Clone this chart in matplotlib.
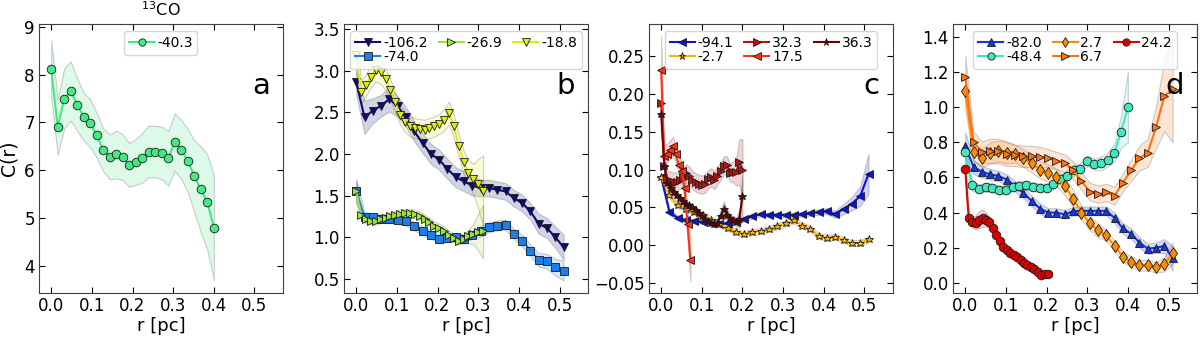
import numpy as np
import matplotlib.pyplot as plt

# radios (rejilla regular de cada curva)
r_a = np.linspace(0, 0.40, 26)
r_26 = np.linspace(0, 0.51, 26)
r_31 = np.linspace(0, 0.312, 27)
r_20 = np.linspace(0, 0.20, 27)
r_175 = np.linspace(0, 0.072, 11)
r_40 = np.linspace(0, 0.40, 25)
r_242 = np.linspace(0, 0.204, 25)

# panel a: 13CO
c_m403 = [8.12, 6.90, 7.50, 7.66, 7.37, 7.12, 6.98, 6.73, 6.43, 6.28, 6.33, 6.27, 6.11,
          6.17, 6.26, 6.39, 6.39, 6.36, 6.25, 6.59, 6.43, 6.20, 5.87, 5.60, 5.33, 4.80]
e_m403 = [0.60, 0.58, 0.63, 0.62, 0.55, 0.50, 0.50, 0.47, 0.45, 0.47, 0.50, 0.48, 0.46,
          0.48, 0.52, 0.54, 0.54, 0.55, 0.57, 0.60, 0.62, 0.66, 0.75, 0.90, 1.00, 1.10]

# panel b
c_m1062 = [2.86, 2.44, 2.52, 2.58, 2.66, 2.57, 2.44, 2.27, 2.13, 2.00, 1.93, 1.82, 1.72,
           1.67, 1.62, 1.59, 1.59, 1.57, 1.55, 1.47, 1.41, 1.31, 1.16, 1.11, 1.00, 0.88]
e_m1062 = [0.15, 0.20, 0.15, 0.13, 0.15, 0.12, 0.12, 0.12, 0.12, 0.12, 0.12, 0.12, 0.12,
           0.12, 0.12, 0.10, 0.10, 0.10, 0.10, 0.10, 0.10, 0.10, 0.12, 0.12, 0.13, 0.15]
c_m740 = [1.55, 1.24, 1.24, 1.22, 1.22, 1.21, 1.19, 1.13, 1.08, 1.03, 0.98, 0.99, 1.00,
          0.98, 1.03, 1.07, 1.12, 1.14, 1.15, 1.04, 0.96, 0.84, 0.73, 0.71, 0.64, 0.60]
e_m740 = [0.15, 0.06, 0.05, 0.05, 0.05, 0.05, 0.05, 0.05, 0.05, 0.05, 0.05, 0.05, 0.05,
          0.05, 0.05, 0.06, 0.06, 0.06, 0.06, 0.06, 0.07, 0.07, 0.08, 0.09, 0.10, 0.12]
c_m269 = [1.55, 1.27, 1.22, 1.20, 1.20, 1.22, 1.23, 1.25, 1.27, 1.28, 1.29, 1.29, 1.28,
          1.26, 1.22, 1.18, 1.14, 1.11, 1.08, 1.03, 0.99, 0.96, 0.98, 1.01, 1.04, 1.06, 1.07]
e_m269 = [0.12, 0.05, 0.05, 0.05, 0.05, 0.05, 0.05, 0.05, 0.05, 0.05, 0.05, 0.05, 0.05,
          0.05, 0.05, 0.05, 0.05, 0.05, 0.05, 0.05, 0.05, 0.05, 0.06, 0.08, 0.12, 0.22, 0.32]
c_m188 = [3.19, 2.74, 2.83, 2.93, 3.01, 2.98, 2.90, 2.77, 2.62, 2.47, 2.38, 2.33, 2.31,
          2.30, 2.29, 2.31, 2.33, 2.36, 2.41, 2.49, 2.33, 2.10, 1.90, 1.77, 1.70, 1.64, 1.56]
e_m188 = [0.22, 0.14, 0.13, 0.13, 0.14, 0.14, 0.13, 0.12, 0.12, 0.12, 0.12, 0.12, 0.12,
          0.12, 0.12, 0.12, 0.12, 0.12, 0.13, 0.14, 0.14, 0.14, 0.14, 0.15, 0.18, 0.30, 0.42]

# panel c
c_m941 = [0.090, 0.044, 0.036, 0.033, 0.032, 0.031, 0.029, 0.028, 0.029, 0.031, 0.035, 0.038, 0.041,
          0.040, 0.040, 0.040, 0.040, 0.041, 0.042, 0.044, 0.045, 0.041, 0.048, 0.055, 0.065, 0.094]
e_m941 = [0.005, 0.004, 0.003, 0.003, 0.003, 0.003, 0.003, 0.003, 0.003, 0.003, 0.003, 0.003, 0.003,
          0.003, 0.003, 0.003, 0.003, 0.003, 0.003, 0.004, 0.004, 0.005, 0.007, 0.009, 0.013, 0.027]
c_m27 = [0.090, 0.066, 0.053, 0.048, 0.044, 0.040, 0.034, 0.028, 0.023, 0.018, 0.015, 0.0175, 0.019,
         0.0215, 0.025, 0.029, 0.033, 0.026, 0.022, 0.012, 0.010, 0.011, 0.007, 0.003, 0.003, 0.008]
e_m27 = [0.004] * 26
c_323 = [0.188, 0.105, 0.087, 0.085, 0.084, 0.084, 0.086, 0.090, 0.095, 0.092, 0.086, 0.083, 0.081, 0.080,
         0.081, 0.087, 0.090, 0.086, 0.092, 0.098, 0.105, 0.106, 0.096, 0.097, 0.097, 0.110, 0.100]
e_323 = [0.02, 0.015, 0.012, 0.012, 0.012, 0.012, 0.012, 0.012, 0.012, 0.012, 0.012, 0.012, 0.012, 0.012,
         0.012, 0.012, 0.012, 0.012, 0.012, 0.012, 0.012, 0.012, 0.012, 0.014, 0.018, 0.030, 0.040]
c_175 = [0.231, 0.118, 0.121, 0.126, 0.131, 0.120, 0.106, 0.098, 0.076, 0.028, -0.020]
e_175 = [0.045, 0.015, 0.012, 0.012, 0.012, 0.012, 0.012, 0.012, 0.015, 0.020, 0.028]
c_363 = [0.173, 0.105, 0.082, 0.075, 0.070, 0.066, 0.062, 0.058, 0.055, 0.053, 0.050, 0.047, 0.043, 0.038,
         0.035, 0.032, 0.030, 0.028, 0.030, 0.038, 0.048, 0.040, 0.036, 0.033, 0.031, 0.035, 0.065]
e_363 = [0.01, 0.006, 0.004, 0.004, 0.004, 0.004, 0.004, 0.004, 0.004, 0.004, 0.004, 0.004, 0.004, 0.004,
         0.004, 0.004, 0.004, 0.005, 0.006, 0.008, 0.010, 0.008, 0.006, 0.005, 0.006, 0.012, 0.030]

# panel d
c_m820 = [0.778, 0.660, 0.632, 0.618, 0.608, 0.588, 0.550, 0.512, 0.467, 0.423, 0.400, 0.400, 0.390,
          0.408, 0.410, 0.410, 0.410, 0.410, 0.370, 0.310, 0.280, 0.230, 0.195, 0.200, 0.210, 0.140]
e_m820 = [0.08, 0.04, 0.035, 0.03, 0.03, 0.03, 0.03, 0.03, 0.03, 0.03, 0.025, 0.025, 0.025,
          0.025, 0.025, 0.025, 0.025, 0.025, 0.03, 0.03, 0.03, 0.03, 0.03, 0.03, 0.04, 0.07]
c_m484 = [0.745, 0.556, 0.535, 0.545, 0.540, 0.528, 0.530, 0.548, 0.553, 0.555, 0.548, 0.540, 0.540,
          0.560, 0.590, 0.610, 0.640, 0.650, 0.695, 0.675, 0.680, 0.700, 0.740, 0.860, 1.000]
e_m484 = [0.05, 0.03, 0.025, 0.025, 0.025, 0.025, 0.025, 0.025, 0.025, 0.025, 0.025, 0.025, 0.025,
          0.025, 0.025, 0.03, 0.03, 0.03, 0.03, 0.03, 0.04, 0.04, 0.05, 0.09, 0.20]
c_27 = [1.09, 0.745, 0.71, 0.74, 0.75, 0.74, 0.735, 0.71, 0.68, 0.645, 0.625, 0.60, 0.55,
        0.48, 0.40, 0.34, 0.30, 0.27, 0.21, 0.15, 0.12, 0.10, 0.10, 0.09, 0.105, 0.17]
e_27 = [0.10, 0.05, 0.05, 0.06, 0.06, 0.06, 0.05, 0.05, 0.05, 0.05, 0.05, 0.05, 0.05,
        0.05, 0.04, 0.04, 0.04, 0.03, 0.03, 0.03, 0.03, 0.03, 0.03, 0.03, 0.04, 0.06]
c_67 = [1.17, 0.80, 0.745, 0.75, 0.75, 0.735, 0.725, 0.72, 0.72, 0.714, 0.71, 0.695, 0.68,
        0.64, 0.58, 0.52, 0.505, 0.515, 0.495, 0.57, 0.64, 0.71, 0.74, 0.885, 1.063, 1.10]
e_67 = [0.12, 0.06, 0.06, 0.07, 0.07, 0.07, 0.06, 0.06, 0.06, 0.06, 0.05, 0.05, 0.05,
        0.05, 0.05, 0.05, 0.05, 0.05, 0.05, 0.05, 0.06, 0.07, 0.08, 0.12, 0.20, 0.30]
c_242 = [0.650, 0.370, 0.345, 0.343, 0.360, 0.368, 0.360, 0.345, 0.310, 0.275, 0.240, 0.205, 0.190,
         0.170, 0.160, 0.150, 0.130, 0.115, 0.103, 0.093, 0.078, 0.063, 0.045, 0.050, 0.052]
e_242 = [0.04, 0.03, 0.03, 0.04, 0.05, 0.05, 0.04, 0.03, 0.02, 0.02, 0.02, 0.02, 0.02,
         0.02, 0.02, 0.02, 0.02, 0.02, 0.02, 0.02, 0.02, 0.02, 0.02, 0.02, 0.02]


def curva(ax, r, c, e, color, marker, label, ms=6.2):
    c = np.array(c)
    e = np.array(e)
    ax.fill_between(r, c - e, c + e, facecolor=color, edgecolor='k', alpha=0.18, lw=0.8)
    ax.plot(r, c, '-', color=color, marker=marker, mfc=color, mec='0.1', mew=0.6,
            ms=ms, lw=1.5, label=label)


fig = plt.figure(figsize=(12, 3.37), dpi=100)
lefts = [0.0325, 0.2867, 0.5408, 0.7942]
axs = [fig.add_axes([l, 0.1306, 0.2033, 0.798]) for l in lefts]

leg_kw = dict(loc='upper center', fontsize=10, handletextpad=0.2, handlelength=1.8,
              labelspacing=0.0, columnspacing=0.8, borderpad=0.35, markerscale=0.85)

ax = axs[0]
curva(ax, r_a, c_m403, e_m403, '#45e882', 'o', '-40.3')
ax.set_ylim(3.43, 9.06)
ax.set_yticks([4, 5, 6, 7, 8, 9])
ax.set_ylabel('C(r)', fontsize=13.5)
ax.set_title(r'$^{13}$CO', fontsize=11.5, pad=6)
ax.legend(ncol=1, **leg_kw)

ax = axs[1]
curva(ax, r_26, c_m1062, e_m1062, '#0b0b78', 'v', '-106.2')
curva(ax, r_26, c_m740, e_m740, '#1f7de8', 's', '-74.0')
curva(ax, r_31, c_m269, e_m269, '#9be33a', '>', '-26.9')
curva(ax, r_31, c_m188, e_m188, '#dcee10', 'v', '-18.8')
ax.set_ylim(0.33, 3.56)
ax.set_yticks([0.5, 1.0, 1.5, 2.0, 2.5, 3.0, 3.5])

ax = axs[2]
curva(ax, r_26, c_m941, e_m941, '#0a14d6', '<', '-94.1')
curva(ax, r_26, c_m27, e_m27, '#ffb300', '*', '-2.7')
curva(ax, r_20, c_323, e_323, '#b01515', '>', '32.3')
curva(ax, r_175, c_175, e_175, '#ff3015', '<', '17.5')
curva(ax, r_20, c_363, e_363, '#700000', '*', '36.3')
ax.set_ylim(-0.063, 0.292)
ax.set_yticks([-0.05, 0.0, 0.05, 0.10, 0.15, 0.20, 0.25])

ax = axs[3]
curva(ax, r_26, c_m820, e_m820, '#1536e0', '^', '-82.0')
curva(ax, r_40, c_m484, e_m484, '#40e8c0', 'o', '-48.4')
curva(ax, r_26, c_27, e_27, '#ff8c00', 'd', '2.7')
curva(ax, r_26, c_67, e_67, '#ff7410', '>', '6.7')
curva(ax, r_242, c_242, e_242, '#dd0000', 'o', '24.2')
ax.set_ylim(-0.057, 1.472)
ax.set_yticks([0.0, 0.2, 0.4, 0.6, 0.8, 1.0, 1.2, 1.4])

for ax, letra in zip(axs, ['a', 'b', 'c', 'd']):
    ax.set_xlim(-0.03, 0.57)
    ax.set_xticks([0.0, 0.1, 0.2, 0.3, 0.4, 0.5])
    ax.set_xlabel('r [pc]', fontsize=13, labelpad=1.5)
    ax.tick_params(direction='in', top=True, right=True, labelsize=12, length=4.5, pad=3)
    for s in ax.spines.values():
        s.set_color('0.25')
    ax.text(0.91, 0.77, letra, transform=ax.transAxes, ha='center', va='center', fontsize=21)
    if letra != 'a':
        ax.legend(ncol=3, **leg_kw)

plt.savefig('out.png', dpi=100)
